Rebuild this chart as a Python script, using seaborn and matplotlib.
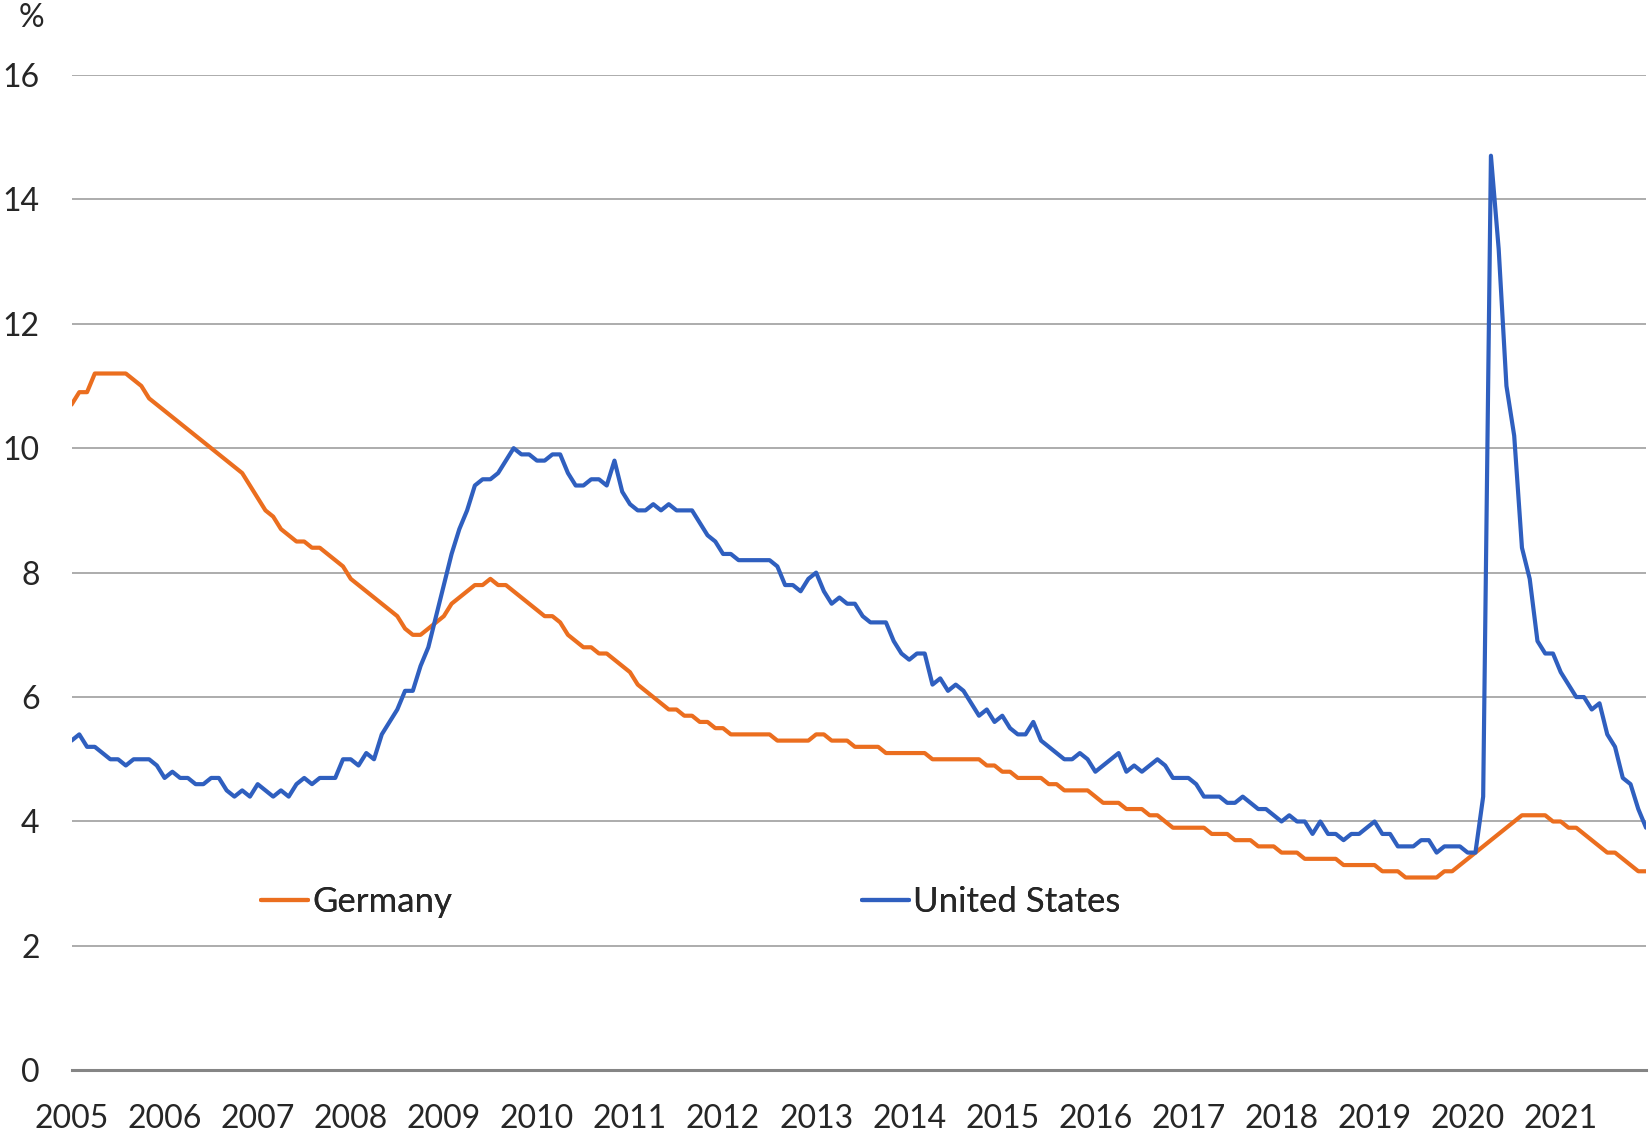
import pandas as pd
import matplotlib
matplotlib.use("Agg")
import matplotlib.pyplot as plt
from matplotlib import font_manager
from matplotlib.lines import Line2D
import seaborn as sns

years = list(range(2005, 2022))

germany = [
    10.7, 10.9, 10.9, 11.2, 11.2, 11.2, 11.2, 11.2, 11.1, 11.0, 10.8, 10.7,  # 2005
    10.6, 10.5, 10.4, 10.3, 10.2, 10.1, 10.0, 9.9, 9.8, 9.7, 9.6, 9.4,       # 2006
    9.2, 9.0, 8.9, 8.7, 8.6, 8.5, 8.5, 8.4, 8.4, 8.3, 8.2, 8.1,              # 2007
    7.9, 7.8, 7.7, 7.6, 7.5, 7.4, 7.3, 7.1, 7.0, 7.0, 7.1, 7.2,              # 2008
    7.3, 7.5, 7.6, 7.7, 7.8, 7.8, 7.9, 7.8, 7.8, 7.7, 7.6, 7.5,              # 2009
    7.4, 7.3, 7.3, 7.2, 7.0, 6.9, 6.8, 6.8, 6.7, 6.7, 6.6, 6.5,              # 2010
    6.4, 6.2, 6.1, 6.0, 5.9, 5.8, 5.8, 5.7, 5.7, 5.6, 5.6, 5.5,              # 2011
    5.5, 5.4, 5.4, 5.4, 5.4, 5.4, 5.4, 5.3, 5.3, 5.3, 5.3, 5.3,              # 2012
    5.4, 5.4, 5.3, 5.3, 5.3, 5.2, 5.2, 5.2, 5.2, 5.1, 5.1, 5.1,              # 2013
    5.1, 5.1, 5.1, 5.0, 5.0, 5.0, 5.0, 5.0, 5.0, 5.0, 4.9, 4.9,              # 2014
    4.8, 4.8, 4.7, 4.7, 4.7, 4.7, 4.6, 4.6, 4.5, 4.5, 4.5, 4.5,              # 2015
    4.4, 4.3, 4.3, 4.3, 4.2, 4.2, 4.2, 4.1, 4.1, 4.0, 3.9, 3.9,              # 2016
    3.9, 3.9, 3.9, 3.8, 3.8, 3.8, 3.7, 3.7, 3.7, 3.6, 3.6, 3.6,              # 2017
    3.5, 3.5, 3.5, 3.4, 3.4, 3.4, 3.4, 3.4, 3.3, 3.3, 3.3, 3.3,              # 2018
    3.3, 3.2, 3.2, 3.2, 3.1, 3.1, 3.1, 3.1, 3.1, 3.2, 3.2, 3.3,              # 2019
    3.4, 3.5, 3.6, 3.7, 3.8, 3.9, 4.0, 4.1, 4.1, 4.1, 4.1, 4.0,              # 2020
    4.0, 3.9, 3.9, 3.8, 3.7, 3.6, 3.5, 3.5, 3.4, 3.3, 3.2, 3.2,              # 2021
]

united_states = [
    5.3, 5.4, 5.2, 5.2, 5.1, 5.0, 5.0, 4.9, 5.0, 5.0, 5.0, 4.9,
    4.7, 4.8, 4.7, 4.7, 4.6, 4.6, 4.7, 4.7, 4.5, 4.4, 4.5, 4.4,
    4.6, 4.5, 4.4, 4.5, 4.4, 4.6, 4.7, 4.6, 4.7, 4.7, 4.7, 5.0,
    5.0, 4.9, 5.1, 5.0, 5.4, 5.6, 5.8, 6.1, 6.1, 6.5, 6.8, 7.3,
    7.8, 8.3, 8.7, 9.0, 9.4, 9.5, 9.5, 9.6, 9.8, 10.0, 9.9, 9.9,
    9.8, 9.8, 9.9, 9.9, 9.6, 9.4, 9.4, 9.5, 9.5, 9.4, 9.8, 9.3,
    9.1, 9.0, 9.0, 9.1, 9.0, 9.1, 9.0, 9.0, 9.0, 8.8, 8.6, 8.5,
    8.3, 8.3, 8.2, 8.2, 8.2, 8.2, 8.2, 8.1, 7.8, 7.8, 7.7, 7.9,
    8.0, 7.7, 7.5, 7.6, 7.5, 7.5, 7.3, 7.2, 7.2, 7.2, 6.9, 6.7,
    6.6, 6.7, 6.7, 6.2, 6.3, 6.1, 6.2, 6.1, 5.9, 5.7, 5.8, 5.6,
    5.7, 5.5, 5.4, 5.4, 5.6, 5.3, 5.2, 5.1, 5.0, 5.0, 5.1, 5.0,
    4.8, 4.9, 5.0, 5.1, 4.8, 4.9, 4.8, 4.9, 5.0, 4.9, 4.7, 4.7,
    4.7, 4.6, 4.4, 4.4, 4.4, 4.3, 4.3, 4.4, 4.3, 4.2, 4.2, 4.1,
    4.0, 4.1, 4.0, 4.0, 3.8, 4.0, 3.8, 3.8, 3.7, 3.8, 3.8, 3.9,
    4.0, 3.8, 3.8, 3.6, 3.6, 3.6, 3.7, 3.7, 3.5, 3.6, 3.6, 3.6,
    3.5, 3.5, 4.4, 14.7, 13.2, 11.0, 10.2, 8.4, 7.9, 6.9, 6.7, 6.7,
    6.4, 6.2, 6.0, 6.0, 5.8, 5.9, 5.4, 5.2, 4.7, 4.6, 4.2, 3.9,
]

countries = ["Germany", "United States"]
colors = {"Germany": "#EB6E1F", "United States": "#2F5FBF"}

# long format for seaborn
months = list(range(len(germany)))
df = pd.DataFrame({
    "month": months * 2,
    "rate": germany + united_states,
    "country": ["Germany"] * len(germany) + ["United States"] * len(united_states),
})

sns.set_style("white")


def pick_font():
    for name in ["Liberation Sans Narrow", "Lato", "Open Sans"]:
        try:
            font_manager.findfont(name, fallback_to_default=False)
            return name
        except Exception:
            continue
    return "DejaVu Sans"


font_name = pick_font()
plt.rcParams["font.family"] = [font_name, "DejaVu Sans"]
fsize = 26 if font_name == "Liberation Sans Narrow" else 23
leg_size = fsize + 2

fig = plt.figure(figsize=(16.52, 11.34), dpi=100)
ax = fig.add_axes([0.0433, 0.0561, 0.9531, 0.8779])

sns.lineplot(data=df, x="month", y="rate", hue="country", palette=colors,
             linewidth=3.0, legend=False, ax=ax, zorder=3)

ax.set_xlim(0, len(germany) - 1)
ax.set_ylim(0, 16)
ax.set_yticks(range(0, 17, 2))
ax.set_xticks([12 * i for i in range(len(years))])
ax.set_xticklabels([str(y) for y in years])
ax.set_xticks([12 * i + 6 for i in range(len(years))], minor=True)
ax.set_xlabel("")
ax.set_ylabel("")

ax.yaxis.grid(True, color="#A6A6A6", linewidth=1.3)
ax.xaxis.grid(False)
for side in ["left", "right", "top"]:
    ax.spines[side].set_visible(False)
ax.spines["bottom"].set_color("#858585")
ax.spines["bottom"].set_linewidth(2.2)
ax.spines["bottom"].set_zorder(4)

ax.tick_params(axis="x", which="major", direction="inout", length=17, width=1.6,
               color="#858585", pad=16, labelsize=fsize)
ax.tick_params(axis="x", which="minor", direction="inout", length=11.5, width=1.6,
               color="#858585")
ax.tick_params(axis="y", length=0, pad=23, labelsize=fsize)

fig.text(0.0191, 0.984, "%", ha="center", va="center", fontsize=fsize)

# legend entries placed like the original (two separate spots)
leg_y = 1 - 902 / 1134
for name, x0 in zip(countries, [261 / 1652, 862 / 1652]):
    h = Line2D([], [], color=colors[name], linewidth=3.0)
    leg = fig.legend([h], [name], loc="center left", bbox_to_anchor=(x0, leg_y),
                     frameon=False, borderpad=0, borderaxespad=0,
                     handlelength=1.35, handletextpad=0.12, fontsize=leg_size)
    fig.add_artist(leg)

fig.savefig("out.png", dpi=100)
